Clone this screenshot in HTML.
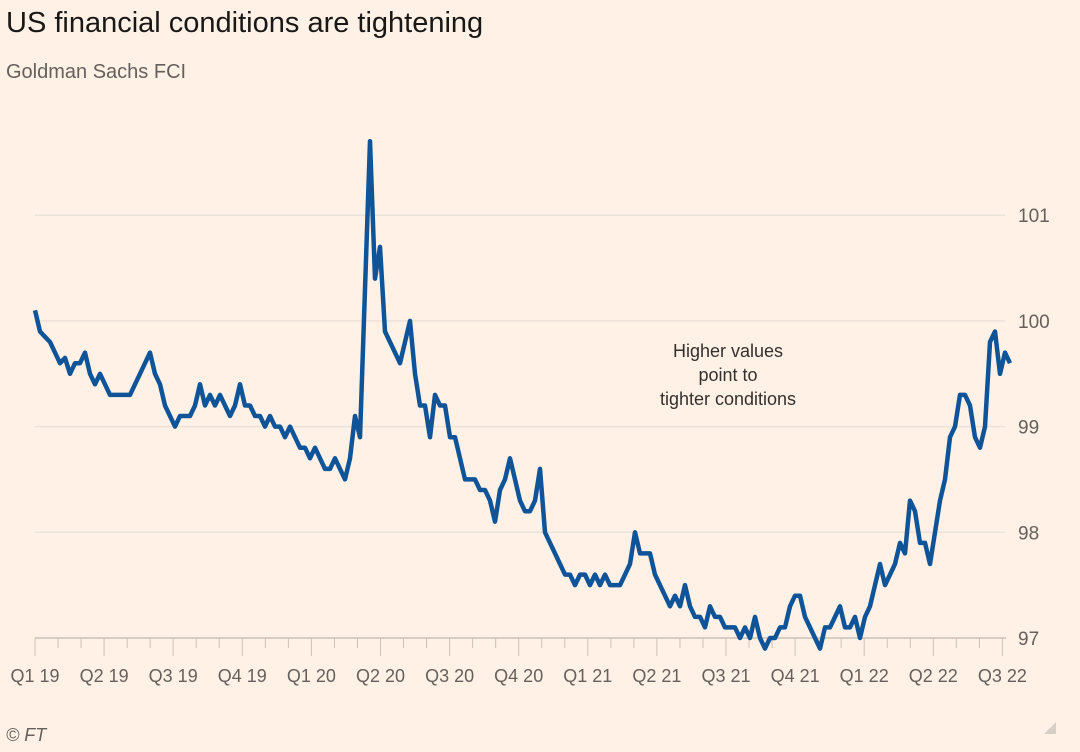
<!DOCTYPE html>
<html><head><meta charset="utf-8"><style>
body{margin:0;background:#fff1e5;font-family:"Liberation Sans",sans-serif;}
#wrap{position:relative;width:1080px;height:752px;overflow:hidden;background:#fff1e5;}
</style></head><body>
<div id="wrap">
<svg id="chart" width="1080" height="752">
<text x="6" y="32" font-size="29" fill="#1a1817">US financial conditions are tightening</text>
<text x="6" y="78" font-size="20" fill="#66605c">Goldman Sachs FCI</text>
<text x="6" y="741" font-size="18" fill="#66605c" font-style="italic">© FT</text>
<g id="grid"></g><g id="xaxis"></g><g id="series"></g>
<text x="728" y="357" font-size="18" fill="#33302e" text-anchor="middle">Higher values</text>
<text x="728" y="381" font-size="18" fill="#33302e" text-anchor="middle">point to</text>
<text x="728" y="405" font-size="18" fill="#33302e" text-anchor="middle">tighter conditions</text>
<path d="M1044 734 L1056 722 L1056 734 Z" fill="#d8cfc7"/>
</svg>
</div>
<script>
const yTicks=[97,98,99,100,101];
const quarterLabels=["Q1 19","Q2 19","Q3 19","Q4 19","Q1 20","Q2 20","Q3 20","Q4 20","Q1 21","Q2 21","Q3 21","Q4 21","Q1 22","Q2 22","Q3 22"];
const fciValues=[100.1,99.9,99.85,99.8,99.7,99.6,99.65,99.5,99.6,99.6,99.7,99.5,99.4,99.5,99.4,99.3,99.3,99.3,99.3,99.3,99.4,99.5,99.6,99.7,99.5,99.4,99.2,99.1,99.0,99.1,99.1,99.1,99.2,99.4,99.2,99.3,99.2,99.3,99.2,99.1,99.2,99.4,99.2,99.2,99.1,99.1,99.0,99.1,99.0,99.0,98.9,99.0,98.9,98.8,98.8,98.7,98.8,98.7,98.6,98.6,98.7,98.6,98.5,98.7,99.1,98.9,100.3,101.7,100.4,100.7,99.9,99.8,99.7,99.6,99.8,100.0,99.5,99.2,99.2,98.9,99.3,99.2,99.2,98.9,98.9,98.7,98.5,98.5,98.5,98.4,98.4,98.3,98.1,98.4,98.5,98.7,98.5,98.3,98.2,98.2,98.3,98.6,98.0,97.9,97.8,97.7,97.6,97.6,97.5,97.6,97.6,97.5,97.6,97.5,97.6,97.5,97.5,97.5,97.6,97.7,98.0,97.8,97.8,97.8,97.6,97.5,97.4,97.3,97.4,97.3,97.5,97.3,97.2,97.2,97.1,97.3,97.2,97.2,97.1,97.1,97.1,97.0,97.1,97.0,97.2,97.0,96.9,97.0,97.0,97.1,97.1,97.3,97.4,97.4,97.2,97.1,97.0,96.9,97.1,97.1,97.2,97.3,97.1,97.1,97.2,97.0,97.2,97.3,97.5,97.7,97.5,97.6,97.7,97.9,97.8,98.3,98.2,97.9,97.9,97.7,98.0,98.3,98.5,98.9,99.0,99.3,99.3,99.2,98.9,98.8,99.0,99.8,99.9,99.5,99.7,99.6];
const NS="http://www.w3.org/2000/svg";
const X0=35,XQ=69.1,XEnd=1010;
function yScale(v){return 638-(v-97)*105.7;}
function xQuarter(q){return X0+q*XQ;}
function xWeek(i){return X0+i*(XEnd-X0)/(fciValues.length-1);}
function mk(tag,attrs,parent){const e=document.createElementNS(NS,tag);for(const k in attrs)e.setAttribute(k,attrs[k]);parent.appendChild(e);return e;}
const grid=document.getElementById('grid');
yTicks.forEach(v=>{
  const y=yScale(v);
  if(v!==97){const l=mk('line',{x1:35,x2:1005,y1:y,y2:y,stroke:'#ebe2da','stroke-width':1.5},grid);
  
  }
  const t=mk('text',{x:1018,y:y+7,'font-size':19,fill:'#66605c'},grid);
  t.textContent=v;
  
  
});
const xa=document.getElementById('xaxis');
const ax=mk('line',{x1:35,x2:1006,y1:638,y2:638,stroke:'#ccc1b7','stroke-width':1.5},xa);


for(let m=0;m<=42;m++){
  const x=X0+m*XQ/3;
  const tk=mk('line',{x1:x,x2:x,y1:638,y2:m%3===0?656:648,stroke:'#ccc1b7','stroke-width':1},xa);
  
  
}
quarterLabels.forEach((q,i)=>{
  const t=mk('text',{x:xQuarter(i),y:682,'font-size':18,fill:'#66605c','text-anchor':'middle'},xa);
  t.textContent=q;
  
  
});
let d='';
fciValues.forEach((v,i)=>{d+=(i?'L':'M')+xWeek(i).toFixed(1)+' '+yScale(v).toFixed(1);});
const p=mk('path',{d:d,fill:'none',stroke:'#0f5499','stroke-width':4.5,'stroke-linejoin':'round'},document.getElementById('series'));


</script>
</body></html>
